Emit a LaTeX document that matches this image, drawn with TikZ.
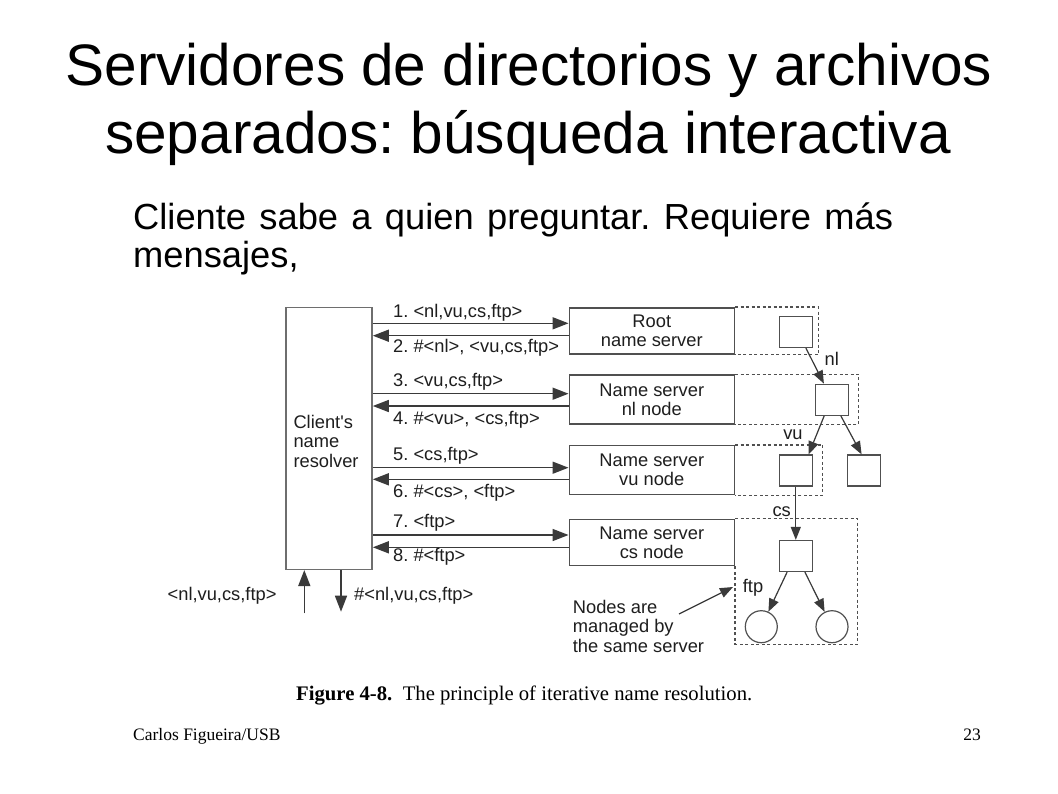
\documentclass[tikz,border=0pt]{standalone}
\usepackage{fontspec}
\setmainfont{Liberation Sans}
\newfontfamily\tnr{Liberation Serif}
\usetikzlibrary{arrows.meta}
\definecolor{boxgray}{HTML}{6E6E6E}
\definecolor{srvgray}{HTML}{505050}
\definecolor{arrgray}{HTML}{3A3A3A}
\definecolor{txtdark}{HTML}{1E1E1E}
\frenchspacing
\begin{document}
\frenchspacing
\begin{tikzpicture}[x=1pt,y=-1pt,
  lbl/.style={font=\fontsize{18.3}{19.5}\selectfont, inner sep=0pt, text=txtdark, text height=13pt, text depth=4pt},
  multi/.style={font=\fontsize{18.3}{19.5}\selectfont, inner sep=0pt, text=txtdark, align=left},
  clientbox/.style={draw=boxgray, line width=1.5pt, inner sep=0pt, minimum width=86.3pt, minimum height=261.6pt},
  srvbox/.style={draw=srvgray, line width=1.5pt, inner sep=0pt, minimum width=165pt, minimum height=#1, align=center, font=\fontsize{18.3}{19}\selectfont, text=txtdark},
  sqnode/.style={draw=srvgray, line width=1.2pt, inner sep=0pt, minimum width=33pt, minimum height=31pt},
  leaf/.style={draw=srvgray, line width=1.2pt, inner sep=0pt, circle, minimum size=32pt},
  msg/.style={-{Triangle[length=16pt,width=12pt]}, line width=1.5pt, draw=arrgray, fill=arrgray},
  tarr/.style={-{Triangle[length=13pt,width=10pt]}, line width=1.2pt, draw=arrgray, fill=arrgray},
  dotbox/.style={draw=srvgray, dash pattern=on 3pt off 2.5pt, line width=1.2pt}
]
\fill[white] (0,0) rectangle (1058,793);
\path[use as bounding box] (0,0) rectangle (1058,793);

% Title and subtitle
\node[anchor=base, inner sep=0pt, font=\fontsize{58.5}{68}\selectfont] (t1) at (529,85) {Servidores de directorios y archivos};
\node[anchor=base, inner sep=0pt, font=\fontsize{58.5}{68}\selectfont] (t2) at (528,153.3) {separados: búsqueda interactiva};
\node[anchor=base west, inner sep=0pt, font=\fontsize{36.3}{38}\selectfont] (s1) at (133,229.5) {\hbox to 760pt{Cliente sabe a quien preguntar. Requiere más}};
\node[anchor=base west, inner sep=0pt, font=\fontsize{36.3}{38}\selectfont] (s2) at (133,267) {mensajes,};

% Client box
\node[clientbox] (client) at (328.9,438.5) {};
\node[multi, anchor=west] (ctext) at (293.3,441) {Client\textquotesingle s\\name\\resolver};

% Server boxes
\node[srvbox=46.3pt] (root) at (651.8,330.9) {Root\\name server};
\node[srvbox=49pt] (nls) at (651.8,399.5) {Name server\\nl node};
\node[srvbox=49pt] (vus) at (651.8,470.2) {Name server\\vu node};
\node[srvbox=46.4pt] (css) at (651.8,542.5) {Name server\\cs node};

% message levels
\coordinate (y1) at (0,323.3);
\coordinate (y2) at (0,335.7);
\coordinate (y3) at (0,393.7);
\coordinate (y4) at (0,406);
\coordinate (y5) at (0,467.7);
\coordinate (y6) at (0,479.3);
\coordinate (y7) at (0,535);
\coordinate (y8) at (0,547.3);

\draw[msg] (client.east |- y1) -- (root.west |- y1);
\draw[msg] (root.west |- y2) -- (client.east |- y2);
\draw[msg] (client.east |- y3) -- (nls.west |- y3);
\draw[msg] (nls.west |- y4) -- (client.east |- y4);
\draw[msg] (client.east |- y5) -- (vus.west |- y5);
\draw[msg] (vus.west |- y6) -- (client.east |- y6);
\draw[msg] (client.east |- y7) -- (css.west |- y7);
\draw[msg] (css.west |- y8) -- (client.east |- y8);

\node[lbl, anchor=west] (l1) at (393,313) {1. <nl,vu,cs,ftp>};
\node[lbl, anchor=west] (l2) at (393,348) {2. \#<nl>, <vu,cs,ftp>};
\node[lbl, anchor=west] (l3) at (393,382) {3. <vu,cs,ftp>};
\node[lbl, anchor=west] (l4) at (393,420) {4. \#<vu>, <cs,ftp>};
\node[lbl, anchor=west] (l5) at (393,456) {5. <cs,ftp>};
\node[lbl, anchor=west] (l6) at (393,492.7) {6. \#<cs>, <ftp>};
\node[lbl, anchor=west] (l7) at (393,522.7) {7. <ftp>};
\node[lbl, anchor=west] (l8) at (393,557.3) {8. \#<ftp>};

% bottom in/out arrows
\coordinate (u0) at (304.3,613);
\coordinate (d1) at (341,611.7);
\draw[msg] (u0) -- (client.south -| u0);
\draw[msg] (client.south -| d1) -- (d1);
\node[lbl, anchor=east] (qin) at (276.7,596) {<nl,vu,cs,ftp>};
\node[lbl, anchor=west] (qout) at (354,596) {\#<nl,vu,cs,ftp>};

% dashed regions
\draw[dotbox] (root.north east) -- ++(83.4,0) |- (root.south east);
\draw[dotbox] (nls.north east) -- ++(123.4,0) |- (nls.south east);
\draw[dotbox] (vus.north east) -- ++(87.7,0) |- (vus.south east);
\draw[dotbox] (css.north east) -- ++(122.4,0) -- ++(0,125.7) -| (css.south east);

% tree nodes
\node[sqnode] (rsq) at (795.8,332) {};
\node[sqnode] (nlsq) at (832,399.7) {};
\node[sqnode] (vusq) at (795.8,470.5) {};
\node[sqnode] (xsq) at (864,470.5) {};
\node[sqnode] (cssq) at (795.8,556) {};
\node[leaf] (c1) at (761.3,626.7) {};
\node[leaf] (c2) at (832,626.7) {};

\draw[tarr] ([xshift=-7pt]rsq.south east) -- ([xshift=9pt]nlsq.north west);
\draw[tarr] ([xshift=9.3pt]nlsq.south west) -- ([xshift=-4.3pt]vusq.north east);
\draw[tarr] ([xshift=-8.3pt]nlsq.south east) -- ([xshift=14.7pt]xsq.north west);
\draw[tarr] (vusq.south) -- (cssq.north);
\draw[tarr] ([xshift=8.4pt]cssq.south west) -- (c1);
\draw[tarr] ([xshift=-8pt]cssq.south east) -- (c2);

\node[lbl] (enl) at (831.7,361) {nl};
\node[lbl] (evu) at (793,435) {vu};
\node[lbl] (ecs) at (781.7,511.7) {cs};
\node[lbl] (eftp) at (753,588) {ftp};

% note
\node[multi, anchor=west] (note) at (572.7,626) {Nodes are\\managed by\\the same server};
\coordinate (na) at (679,614);
\coordinate (nb) at (733,587);
\draw[tarr] (na) -- (nb);

% caption
\node[anchor=base west, inner sep=0pt, font=\tnr\fontsize{20.7}{22}\selectfont] (cap) at (296,700) {\textbf{Figure 4-8.}\ \ The principle of iterative name resolution.};

% footer
\node[anchor=base west, inner sep=0pt, font=\tnr\fontsize{17.5}{20}\selectfont] (foot) at (133,740) {Carlos Figueira/USB};
\node[anchor=base east, inner sep=0pt, font=\tnr\fontsize{17.5}{20}\selectfont] (pg) at (981,740) {23};
\end{tikzpicture}
\end{document}
